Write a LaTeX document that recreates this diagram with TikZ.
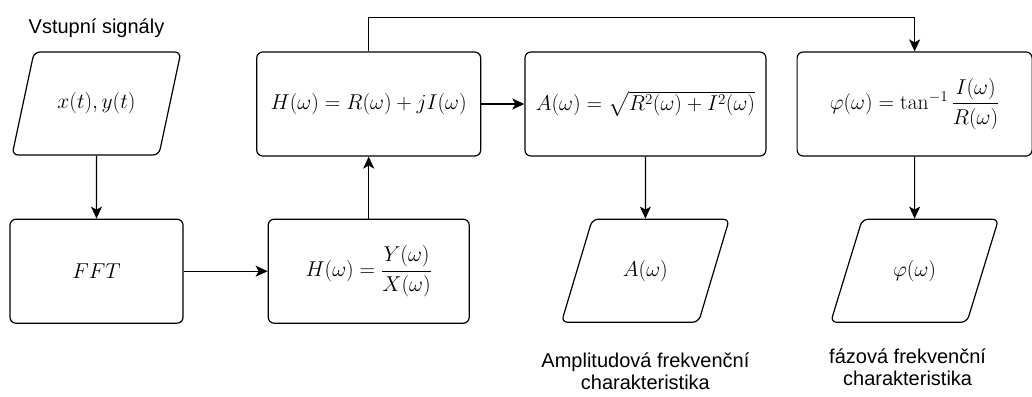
\RequirePackage{fix-cm}
\documentclass[tikz,border=0pt]{standalone}
\usepackage{amsmath}
\usepackage[no-math]{fontspec}
\setmainfont{Liberation Sans}
\usetikzlibrary{arrows.meta,positioning,shapes.geometric}
\tikzset{
    >={Stealth[length=12pt,width=11pt,inset=3pt]},
    block/.style={draw, line width=1.2pt, rounded corners=6pt, align=center, minimum height=104pt, font=\fontsize{21.5}{25}\selectfont},
    io/.style={draw, line width=1.2pt, rounded corners=6pt, trapezium, trapezium left angle=62, trapezium right angle=118, trapezium stretches=true, minimum width=169pt, minimum height=103pt, font=\fontsize{21.5}{25}\selectfont},
    note/.style={align=center, inner sep=0pt, font=\fontsize{20}{22}\selectfont},
    arrow/.style={->, line width=1.2pt}
}

\begin{document}
\begin{tikzpicture}[node distance=62pt and 43pt]
    \useasboundingbox (0,0) rectangle (1032pt,-396pt);
    \node[io] (sig) at (96.5pt,-103.5pt) {$x(t), y(t)$};
    \node[note, above=14pt of sig] (sigtxt) {Vstupní signály};
    \node[block, minimum width=173pt, below=63pt of sig] (fft) {$FFT$};
    \node[block, minimum width=201pt, right=84pt of fft] (hdiv) {$H(\omega) = \dfrac{Y(\omega)}{X(\omega)}$};
    \node[block, minimum width=224pt, above=of hdiv] (hsum) {$H(\omega) = R(\omega) + jI(\omega)$};
    \node[block, minimum width=241pt, right=of hsum] (amp) {$A(\omega) = \sqrt{R^2(\omega) + I^2(\omega)}$};
    \node[block, minimum width=235pt, right=30pt of amp] (phase) {$\varphi(\omega) = \tan^{-1}\dfrac{I(\omega)}{R(\omega)}$};
    \node[io, below=of amp] (ampout) {$A(\omega)$};
    \node[io, below=of phase] (phaseout) {$\varphi(\omega)$};
    \node[note, below=30pt of ampout] (amptxt) {Amplitudová frekvenční\\charakteristika};
    \node[note, below=26pt of phaseout, xshift=-7pt] (phasetxt) {fázová frekvenční\\charakteristika};
    \draw[arrow] (sig) -- (fft);
    \draw[arrow] (fft) -- (hdiv);
    \draw[arrow] (hdiv) -- (hsum);
    \draw[arrow] (hsum) -- (amp);
    \draw[arrow] (hsum.north) -- ++(0,34pt) -| (phase.north);
    \draw[arrow] (amp) -- (ampout);
    \draw[arrow] (phase) -- (phaseout);
\end{tikzpicture}
\end{document}
